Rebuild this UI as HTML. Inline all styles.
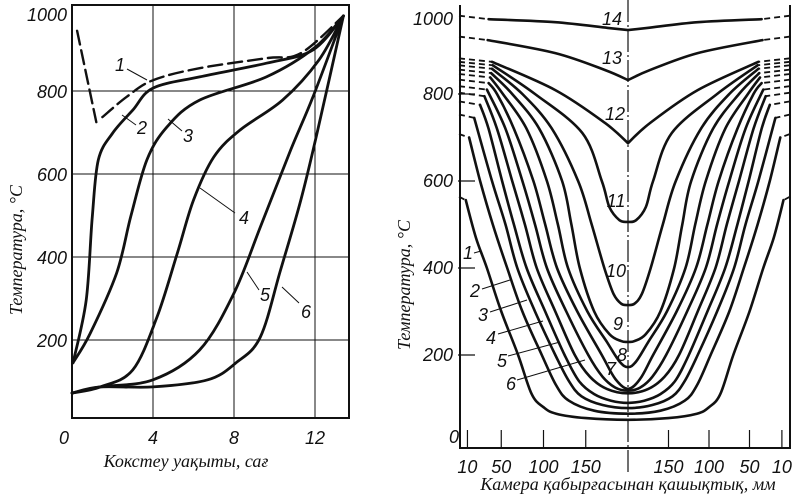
<!DOCTYPE html>
<html><head><meta charset="utf-8">
<style>
html,body{margin:0;padding:0;background:#fff;}
svg{display:block;}
.num{font-family:"Liberation Sans",sans-serif;font-style:italic;font-size:18px;fill:#111;}
.ttl{font-family:"Liberation Serif",serif;font-style:italic;font-size:18px;fill:#111;}
</style></head>
<body>
<svg id="fig" width="800" height="494" viewBox="0 0 800 494" xmlns="http://www.w3.org/2000/svg"></svg>
<script>
// ---------- LEFT CHART DATA (time h, temperature °C) ----------
const leftXTicks = [0, 4, 8, 12];
const leftYTicks = [200, 400, 600, 800, 1000];
const c1a_t = [0.25, 1.2];
const c1a_T = [945, 725];
const c1b_t = [1.5, 2.7, 4, 6.3, 9.6, 11.3, 13.4];
const c1b_T = [737, 786, 826, 855, 879, 891, 981];
const c2_t = [0.05, 0.7, 1.0, 1.3, 2, 3, 4, 6.3, 9.6, 11.9, 13.4];
const c2_T = [145, 296, 497, 634, 698, 754, 807, 834, 867, 899, 981];
const c3_t = [0.05, 0.9, 2.2, 2.9, 3.7, 4.7, 6.3, 9.6, 12, 13.4];
const c3_T = [145, 216, 361, 497, 634, 714, 778, 834, 905, 981];
const c4_t = [0, 1.4, 3, 4.2, 5.2, 6, 7, 8.3, 10.4, 12.2, 13.4];
const c4_T = [72, 87, 128, 256, 409, 537, 641, 706, 778, 875, 981];
const c5_t = [0, 1.4, 4, 6.3, 8, 9.3, 10.8, 11.9, 13.4];
const c5_T = [72, 87, 104, 176, 313, 472, 658, 786, 981];
const c6_t = [0, 1.4, 4, 6.7, 8.1, 9.3, 10.3, 11.3, 12.1, 13.4];
const c6_T = [72, 87, 87, 104, 145, 207, 369, 537, 698, 981];

// ---------- RIGHT CHART DATA (distance from wall mm, temperature °C) ----------
const rightYTicks = [0, 200, 400, 600, 800, 1000];
const rightXTicks = [10, 50, 100, 150];
const r1_d = [8, 20, 33, 50, 70, 86, 100, 115, 150, 200];
const r1_T = [556, 470, 400, 300, 200, 110, 80, 65, 55, 51];
const r2_d = [12, 25, 40, 57, 75, 98, 115, 130, 160, 200];
const r2_T = [700, 600, 500, 400, 300, 200, 130, 95, 72, 65];
const r3_d = [18, 39, 55, 69, 90, 114, 130, 145, 170, 200];
const r3_T = [745, 600, 500, 400, 300, 200, 140, 105, 85, 78];
const r4_d = [25, 35, 51, 65, 80, 102, 125, 142, 160, 180, 200];
const r4_T = [775, 720, 600, 500, 400, 300, 200, 140, 110, 95, 90];
const r5_d = [30, 45, 63, 78, 92, 114, 137, 155, 175, 200];
const r5_T = [795, 720, 600, 500, 400, 300, 200, 150, 122, 112];
const r6_d = [33, 55, 75, 90, 104, 127, 153, 170, 185, 200];
const r6_T = [810, 720, 600, 500, 400, 300, 200, 150, 125, 118];
const r7_d = [35, 45, 65, 88, 102, 116, 140, 169, 185, 200];
const r7_T = [825, 800, 720, 600, 500, 400, 300, 200, 145, 122];
const r8_d = [37, 52, 80, 104, 117, 129, 152, 175, 190, 200];
const r8_T = [838, 800, 720, 600, 500, 400, 300, 230, 185, 172];
const r9_d = [38, 63, 95, 122, 133, 143, 160, 178, 192, 200];
const r9_T = [848, 800, 720, 600, 500, 400, 300, 248, 232, 230];
const r10_d = [39, 75, 110, 141, 157, 172, 183, 192, 200];
const r10_T = [858, 800, 720, 600, 500, 400, 340, 318, 315];
const r11_d = [40, 90, 146, 169, 178, 190, 200];
const r11_T = [866, 800, 710, 600, 540, 510, 506];
const r12_d = [39, 114, 173, 200];
const r12_T = [874, 809, 733, 687];
const r13_d = [34, 114, 173, 200];
const r13_T = [924, 894, 855, 832];
const r14_d = [35, 114, 176, 200];
const r14_T = [972, 965, 952, 947];

const NS = "http://www.w3.org/2000/svg";
const svg = document.getElementById('fig');
function mk(tag, attrs, parent){
  const e = document.createElementNS(NS, tag);
  for (const k in attrs) e.setAttribute(k, attrs[k]);
  (parent||svg).appendChild(e);
  return e;
}
function smooth(pts){
  if (pts.length < 2) return '';
  let d = 'M' + pts[0][0].toFixed(1) + ' ' + pts[0][1].toFixed(1);
  for (let i = 0; i < pts.length - 1; i++){
    const p0 = pts[i-1] || pts[i], p1 = pts[i], p2 = pts[i+1], p3 = pts[i+2] || p2;
    const c1x = p1[0] + (p2[0]-p0[0])/6, c1y = p1[1] + (p2[1]-p0[1])/6;
    const c2x = p2[0] - (p3[0]-p1[0])/6, c2y = p2[1] - (p3[1]-p1[1])/6;
    d += ' C' + c1x.toFixed(1)+' '+c1y.toFixed(1)+' '+c2x.toFixed(1)+' '+c2y.toFixed(1)+' '+p2[0].toFixed(1)+' '+p2[1].toFixed(1);
  }
  return d;
}
function text(x, y, s, cls, anchor){
  const t = mk('text', {x:x, y:y, class:cls, 'text-anchor':anchor||'middle'});
  t.textContent = s;
  return t;
}

// ================= LEFT CHART =================
const lx = t => 72 + t * 20.25;
const ly = T => 423 - T * 0.415;
const L = mk('g', {});


leftXTicks.forEach(v => {
  if (v === 0) return;
  const g = mk('line', {x1:lx(v), x2:lx(v), y1:5, y2:418, stroke:'#111', 'stroke-width':1}, L);
  
  
});
leftYTicks.forEach(v => {
  if (v === 1000) return;
  const g = mk('line', {x1:72, x2:349, y1:ly(v), y2:ly(v), stroke:'#111', 'stroke-width':1}, L);
  
  
});
const lb = mk('rect', {x:72, y:5, width:277, height:413, fill:'none', stroke:'#111', 'stroke-width':2}, L);


leftXTicks.forEach(v => {
  const t = text(lx(v) - (v===0?8:0), 444, String(v), 'num');
  
  
});
leftYTicks.forEach(v => {
  const t = text(67, ly(v) + 7 + (v===1000?6:0), String(v), 'num', 'end');
  
  
});
const lxt = text(186, 467, 'Кокстеу уақыты, сағ', 'ttl');


const lyt = text(0, 0, 'Температура, °C', 'ttl');
lyt.setAttribute('transform', 'translate(22,250) rotate(-90)');


const leftSeries = [
  [c1a_t, c1a_T, true, 'curve-1-start'],
  [c1b_t, c1b_T, true, 'curve-1'],
  [c2_t, c2_T, false, 'curve-2'],
  [c3_t, c3_T, false, 'curve-3'],
  [c4_t, c4_T, false, 'curve-4'],
  [c5_t, c5_T, false, 'curve-5'],
  [c6_t, c6_T, false, 'curve-6']
];
leftSeries.forEach(s => {
  const pts = s[0].map((t,i) => [lx(t), ly(s[1][i])]);
  const p = mk('path', {d:smooth(pts), fill:'none', stroke:'#111', 'stroke-width':2.8, 'stroke-linecap':'round', 'stroke-linejoin':'round'}, L);
  if (s[2]) { p.setAttribute('stroke-dasharray', '14 6'); p.setAttribute('stroke-width', 2.4); }
  
  
});
const leftLabels = [['1',120,71,127,69,147,80],['2',142,134,122,115,136,125],['3',188,142,168,119,182,131],['4',244,224,200,188,235,213],['5',265,301,247,272,259,290],['6',306,318,282,287,299,303]];
leftLabels.forEach(a => {
  const ln = mk('line', {x1:a[3], y1:a[4], x2:a[5], y2:a[6], stroke:'#111', 'stroke-width':1}, L);
  
  
  const t = text(a[1], a[2], a[0], 'num');
  
  
});

// ================= RIGHT CHART =================
const rxL = d => 459 + d * 0.845;
const rxR = d => 790 - d * 0.81;
const ry = T => 442 - T * 0.435;
const R = mk('g', {});


const rb = mk('path', {d:'M460 5 V448 H790 V5', fill:'none', stroke:'#111', 'stroke-width':2}, R);


const ctr = mk('line', {x1:628, x2:628, y1:0, y2:474, stroke:'#111', 'stroke-width':1.2, 'stroke-dasharray':'22 3 2 3'}, R);


rightYTicks.forEach(v => {
  if (v > 0 && v < 1000) {
    const tk = mk('line', {x1:458, x2:475, y1:ry(v), y2:ry(v), stroke:'#111', 'stroke-width':1.2}, R);
    
    
  }
  const t = text(v === 0 ? 459 : 453, ry(v) + 6 + (v===1000?12:0) - (v===0?5:0), String(v), 'num', 'end');
  
  
});
rightXTicks.forEach(v => {
  [rxL(v), rxR(v)].forEach(x => {
    const tk = mk('line', {x1:x, x2:x, y1:448, y2:430, stroke:'#111', 'stroke-width':1.2}, R);
    
    
    const t = text(x, 473, String(v), 'num');
    
    
  });
});
const rxt = text(628, 490, 'Камера қабырғасынан қашықтық, мм', 'ttl');


const ryt = text(0, 0, 'Температура, °C', 'ttl');
ryt.setAttribute('transform', 'translate(410,285) rotate(-90)');



const rightSeries = [[r1_d,r1_T],[r2_d,r2_T],[r3_d,r3_T],[r4_d,r4_T],[r5_d,r5_T],[r6_d,r6_T],[r7_d,r7_T],[r8_d,r8_T],[r9_d,r9_T],[r10_d,r10_T],[r11_d,r11_T],[r12_d,r12_T],[r13_d,r13_T],[r14_d,r14_T]];
rightSeries.forEach((s, k) => {
  const left = s[0].map((d,i) => [rxL(d), ry(s[1][i])]);
  const right = s[0].map((d,i) => [rxR(d), ry(s[1][i])]).reverse();
  const sharp = k >= 11;
  let dstr;
  if (sharp) {
    dstr = smooth(left) + ' ' + smooth(right).replace(/^M/, 'L');
  } else {
    dstr = smooth(left.concat(right.slice(1)));
  }
  const p = mk('path', {d:dstr, fill:'none', stroke:'#111', 'stroke-width':2.6, 'stroke-linecap':'round', 'stroke-linejoin':'miter'}, R);
  
  
  const T0 = s[1][0], d0 = s[0][0];
  [[rxL(0), rxL(d0)], [rxR(0), rxR(d0)]].forEach(xx => {
    const dl = mk('line', {x1:xx[0], y1:ry(T0 + 8), x2:xx[1], y2:ry(T0), stroke:'#111', 'stroke-width':1.8, 'stroke-dasharray':'6 4'}, R);
    
    
  });
});
const rLabels = [['1',468,259,474,253,481,251],['2',475,297,482,289,510,280],['3',483,321,490,312,527,300],['4',491,344,498,334,543,321],['5',502,367,508,356,560,342],['6',511,390,517,380,585,360]];
rLabels.forEach(a => {
  const ln = mk('line', {x1:a[3], y1:a[4], x2:a[5], y2:a[6], stroke:'#111', 'stroke-width':1}, R);
  
  
  const t = text(a[1], a[2], a[0], 'num');
  
  
});
const rInner = [['7',611,375],['8',622,361],['9',618,330],['10',616,277],['11',616,207],['12',615,120],['13',612,64],['14',612,25]];
rInner.forEach(a => {
  const t = text(a[1], a[2], a[0], 'num');
  
  
});
</script>
</body></html>
